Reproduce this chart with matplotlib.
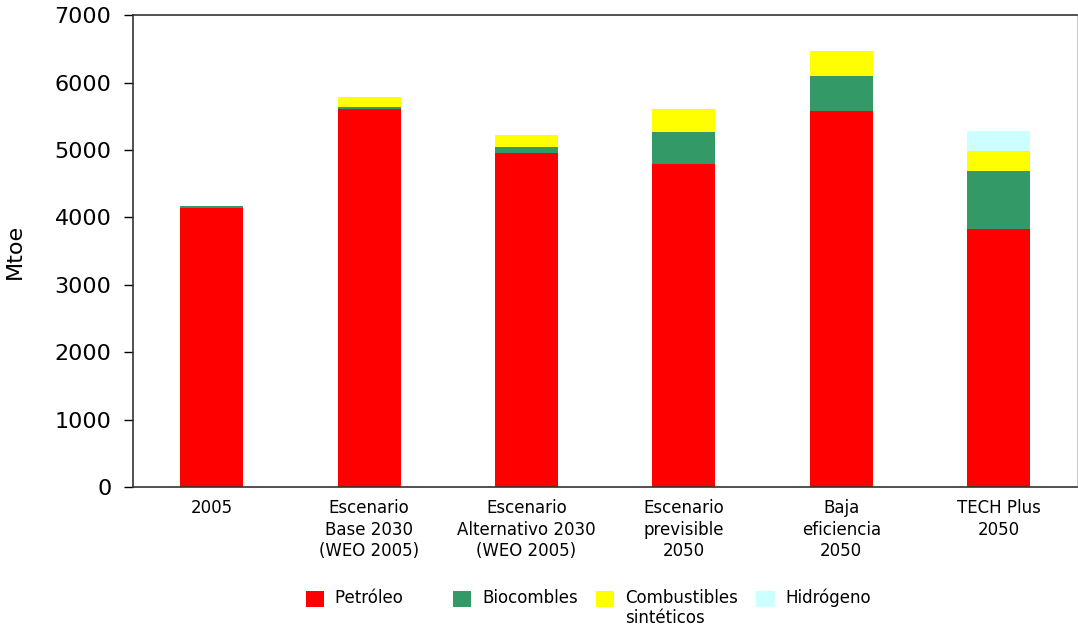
import matplotlib
matplotlib.use("Agg")
from matplotlib import pyplot as plt
from matplotlib.patches import Patch, Rectangle
from matplotlib.legend_handler import HandlerPatch
import numpy as np

# Categorías del eje X
escenarios = ["2005",
              "Escenario\nBase 2030\n(WEO 2005)",
              "Escenario\nAlternativo 2030\n(WEO 2005)",
              "Escenario\nprevisible\n2050",
              "Baja\neficiencia\n2050",
              "TECH Plus\n2050"]

# Consumo por fuente (Mtoe)
petroleo = [4140, 5600, 4950, 4790, 5575, 3825]
biocombles = [25, 40, 90, 475, 520, 865]
sinteticos = [0, 140, 180, 335, 380, 295]
hidrogeno = [0, 0, 0, 0, 0, 295]

series = [("Petróleo", petroleo, "#ff0000"),
          ("Biocombles", biocombles, "#339966"),
          ("Combustibles\nsintéticos", sinteticos, "#ffff00"),
          ("Hidrógeno", hidrogeno, "#ccffff")]

fig = plt.figure(figsize=(10.78, 6.3), dpi=100)
ax = fig.add_axes([0.1234, 0.227, 0.876, 0.749])

x = np.arange(len(escenarios))
base = np.zeros(len(escenarios))
for nombre, valores, color in series:
    ax.bar(x, valores, width=0.4, bottom=base, color=color, edgecolor="none")
    base += np.array(valores)

ax.set_xlim(-0.5, len(escenarios) - 0.5)
ax.set_ylim(0, 7000)
ax.set_yticks(range(0, 7001, 1000))
ax.set_xticks(x)
ax.set_xticklabels(escenarios, fontsize=12, linespacing=1.25)
ax.tick_params(axis="x", length=0, pad=9)
ax.tick_params(axis="y", length=6.5, width=1, pad=9, labelsize=16)
ax.set_ylabel("Mtoe", fontsize=16, labelpad=21)

for lado in ["left", "bottom", "top"]:
    ax.spines[lado].set_color("#333333")
    ax.spines[lado].set_linewidth(1.2)
ax.spines["right"].set_color("#c8c8c8")


# el cuadrado de la leyenda va a la altura de la primera línea
def cuadro_arriba(legend, orig_handle, xdescent, ydescent, width, height, fontsize):
    return Rectangle((-xdescent, -ydescent + 0.62 * fontsize), width, height)


handles = [Patch(facecolor=c, edgecolor="none") for _, _, c in series]
labels = ["Petróleo      \n ", "Biocombles\n ", "Combustibles\nsintéticos", "Hidrógeno\n "]
fig.legend(handles, labels, loc="upper center", bbox_to_anchor=(0.546, 0.09),
           ncol=4, frameon=False, fontsize=12, handlelength=1.1, handleheight=1.1,
           columnspacing=1.1, handletextpad=0.65, labelspacing=0,
           handler_map={Patch: HandlerPatch(patch_func=cuadro_arriba)})

fig.savefig("out.png", dpi=100)
